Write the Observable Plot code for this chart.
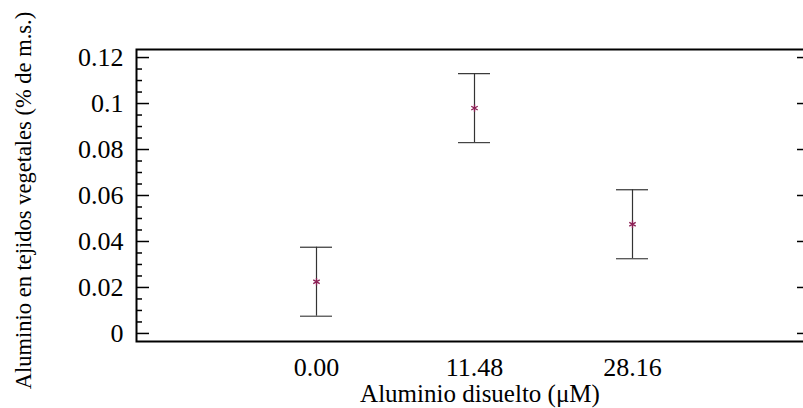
<!DOCTYPE html>
<html>
<head>
<meta charset="utf-8">
<script src="https://cdn.jsdelivr.net/npm/d3@7"></script>
<script src="https://cdn.jsdelivr.net/npm/@observablehq/plot@0.6"></script>
<style>
  html, body { margin: 0; padding: 0; background: #fff; overflow: hidden; }
  #chart svg, #chart svg text { font-family: 'Liberation Serif', 'Times New Roman', serif !important; }
</style>
</head>
<body>
<div id="chart"></div>
<script>
// Dissolved aluminium treatments and aluminium content in plant tissue (mean ± error)
const doses = ["0.00", "11.48", "28.16"];
const means = [0.0225, 0.098, 0.0475];
const errors = [0.015, 0.015, 0.015];

// Y axis ticks: labelled majors and unlabelled minors
const yMajorTicks = [0, 0.02, 0.04, 0.06, 0.08, 0.1, 0.12];
const yMinorTicks = [0.005, 0.01, 0.015, 0.025, 0.03, 0.035, 0.045, 0.05, 0.055,
                     0.065, 0.07, 0.075, 0.085, 0.09, 0.095, 0.105, 0.11, 0.115];

const xTitle = "Aluminio disuelto (μM)";
const yTitle = "Aluminio en tejidos vegetales (% de m.s.)";

const rows = doses.map((dose, i) => ({
  dose,
  mean: means[i],
  lo: means[i] - errors[i],
  hi: means[i] + errors[i]
}));

const W = 803, H = 408;
const mL = 136, mT = 49, mB = 67, mR = -8;
const frameW = W - mL - mR;
const serif = "'Liberation Serif', 'Times New Roman', serif";

const chart = Plot.plot({
  width: W,
  height: H,
  marginLeft: mL,
  marginTop: mT,
  marginBottom: mB,
  marginRight: mR,
  style: { color: "#000", background: "#fff", overflow: "visible" },
  x: { type: "band", domain: doses, paddingInner: 0.798, paddingOuter: 1.028 },
  y: { domain: [-0.0035, 0.1235] },
  marks: [
    Plot.axisX({ tickSize: 0, tickPadding: 16, label: null }),
    Plot.axisY({ ticks: yMajorTicks, tickSize: 0, tickPadding: 13, tickFormat: d => String(d), label: null }),
    // inward ticks on the left and right frame edges
    Plot.ruleY(yMajorTicks, { insetRight: frameW - 13, stroke: "#000", strokeWidth: 1.5 }),
    Plot.ruleY(yMinorTicks, { insetRight: frameW - 6, stroke: "#000", strokeWidth: 1.5 }),
    Plot.ruleY(yMajorTicks, { insetLeft: frameW - 14, stroke: "#000", strokeWidth: 1.5 }),
    // error bars
    Plot.ruleX(rows, { x: "dose", y1: "lo", y2: "hi", stroke: "#333", strokeWidth: 1.2 }),
    Plot.tickY(rows, { x: "dose", y: "lo", stroke: "#444", strokeWidth: 1.2 }),
    Plot.tickY(rows, { x: "dose", y: "hi", stroke: "#333", strokeWidth: 1.2 }),
    // means
    Plot.dot(rows, { x: "dose", y: "mean", symbol: "asterisk", r: 3.5, stroke: "#8c1f55", strokeWidth: 1.3 }),
    Plot.frame({ stroke: "#000", strokeWidth: 2 }),
    Plot.text([xTitle], {
      text: d => d, frameAnchor: "bottom", textAnchor: "middle", lineAnchor: "middle",
      dy: 52, dx: 6, fill: "#000"
    }),
    Plot.text([yTitle], {
      text: d => d, frameAnchor: "left", textAnchor: "middle", lineAnchor: "middle",
      rotate: -90, dx: -113, dy: 5, fill: "#000"
    })
  ]
});

// Serif type throughout; larger sizes for tick labels and axis titles
const titleSizes = new Map([[xTitle, "25px"], [yTitle, "22.5px"]]);
chart.setAttribute("font-family", serif);
chart.querySelectorAll("text").forEach(t => {
  const size = titleSizes.get(t.textContent) || "26px";
  t.setAttribute("font-family", serif);
  t.setAttribute("font-size", size);
  t.style.setProperty("font-family", serif, "important");
  t.style.setProperty("font-size", size, "important");
});

document.getElementById("chart").appendChild(chart);
</script>
</body>
</html>
